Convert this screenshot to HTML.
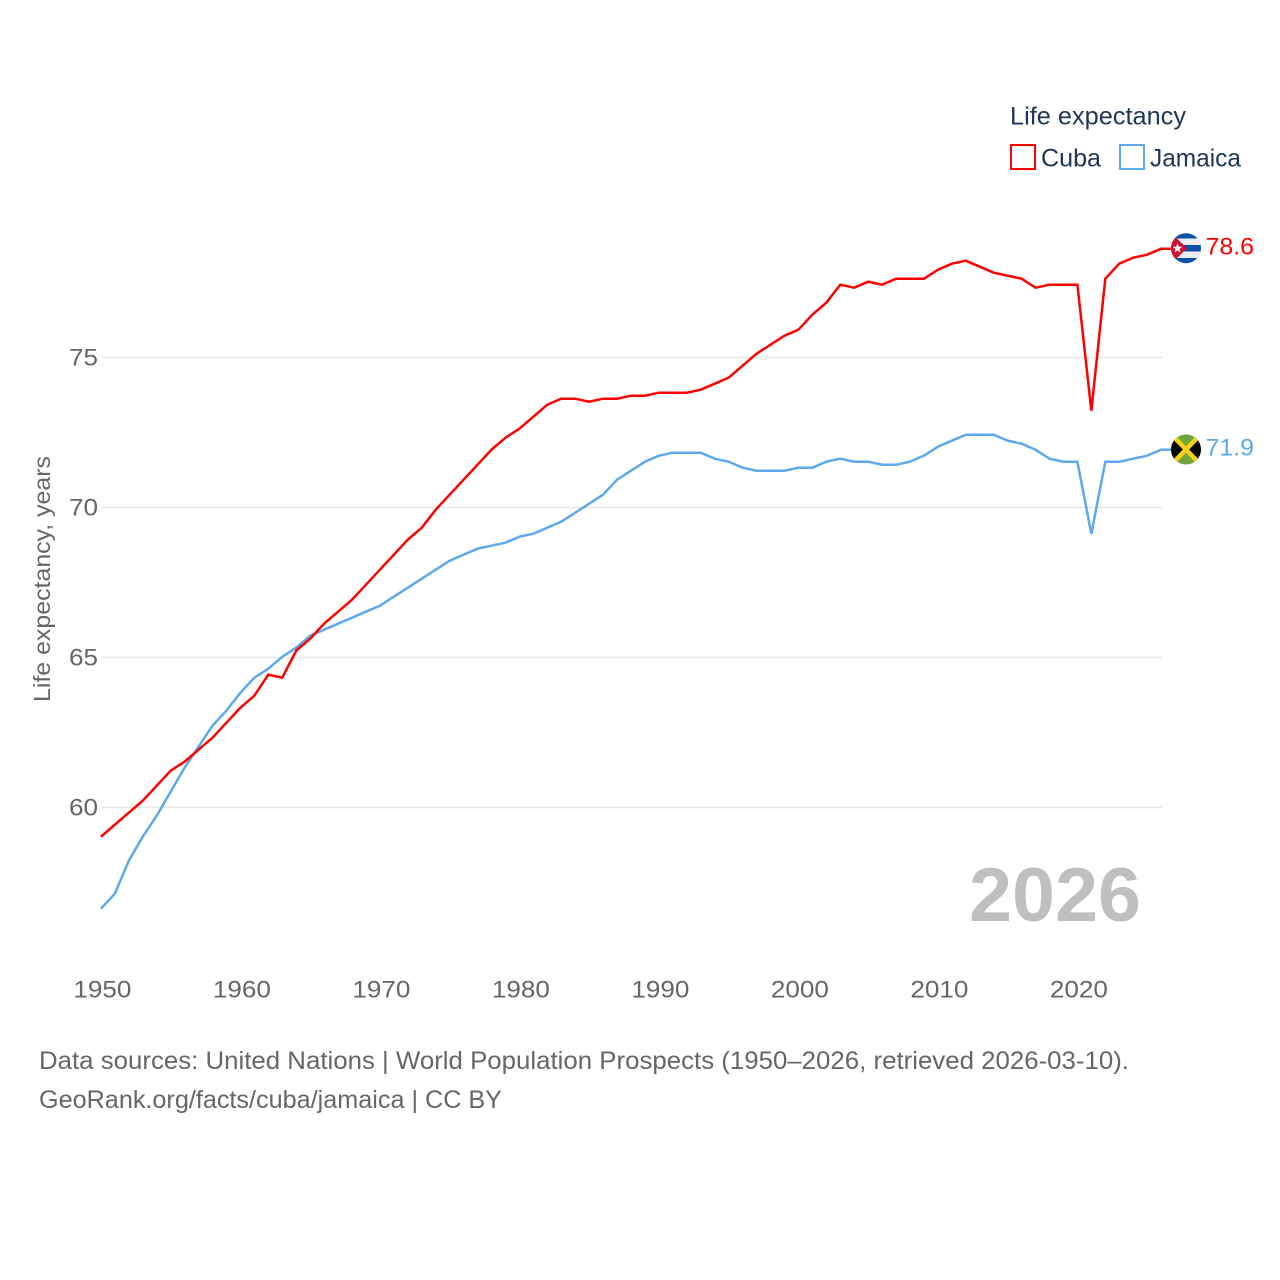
<!DOCTYPE html>
<html lang="en">
<head>
<meta charset="utf-8">
<title>Life expectancy: Cuba and Jamaica</title>
<style>
html,body{margin:0;padding:0;background:#fff;}
svg{display:block;}
text{font-family:"Liberation Sans",sans-serif;}
</style>
</head>
<body>
<svg id="chart" xmlns="http://www.w3.org/2000/svg" width="1280" height="1280" viewBox="0 0 1280 1280">
  <rect width="1280" height="1280" fill="#fff"/>
  <defs>
    <clipPath id="cuba-clip"><circle cx="1186" cy="248.2" r="15"/></clipPath>
    <clipPath id="jamaica-clip"><circle cx="1186" cy="449.5" r="15"/></clipPath>
  </defs>
  <g id="grid"></g>
  <g id="y-ticks"></g>
  <g id="x-ticks"></g>
  <text transform="translate(50,579) rotate(-90)" text-anchor="middle" font-size="23" fill="#666" textLength="246" lengthAdjust="spacingAndGlyphs">Life expectancy, years</text>
  <text x="1055" y="921" text-anchor="middle" font-size="76" font-weight="bold" fill="#bfbfbf" textLength="172" lengthAdjust="spacingAndGlyphs">2026</text>
  <g id="series"></g>
  <g clip-path="url(#cuba-clip)">
    <rect x="1171" y="233" width="30" height="31" fill="#0a4fa8"/>
    <rect x="1171" y="238.5" width="30" height="6.5" fill="#eeeef4"/>
    <rect x="1171" y="251.5" width="30" height="6.5" fill="#eeeef4"/>
    <polygon points="1171,233 1171,264 1187,248.2" fill="#d21034"/>
    <polygon points="1177.5,243.2 1178.8,246.7 1182.4,246.7 1179.5,249 1180.5,252.5 1177.5,250.4 1174.5,252.5 1175.5,249 1172.6,246.7 1176.2,246.7" fill="#fff"/>
  </g>
  <g clip-path="url(#jamaica-clip)">
    <rect x="1171" y="434" width="30" height="31" fill="#6fa53f"/>
    <polygon points="1171,434 1186,449.5 1171,465" fill="#050505"/>
    <polygon points="1201,434 1186,449.5 1201,465" fill="#050505"/>
    <path d="M1171 434 L1201 465 M1201 434 L1171 465" stroke="#f7d117" stroke-width="4.5" fill="none"/>
  </g>
  <text id="label-cuba" x="1205.5" y="254.5" font-size="24" fill="#ff0000" textLength="48.5" lengthAdjust="spacingAndGlyphs"></text>
  <text id="label-jamaica" x="1205.5" y="455.5" font-size="24" fill="#5ea8ee" textLength="48.5" lengthAdjust="spacingAndGlyphs"></text>
  <g>
    <text x="1010" y="124.5" font-size="25" fill="#1d3557" textLength="176" lengthAdjust="spacingAndGlyphs">Life expectancy</text>
    <g>
      <rect x="1011" y="145" width="24" height="24" fill="#fff" stroke="#ff0000" stroke-width="2"/>
      <text x="1041" y="166.5" font-size="25" fill="#1d3557" textLength="60" lengthAdjust="spacingAndGlyphs">Cuba</text>
    </g>
    <g>
      <rect x="1120" y="145" width="24" height="24" fill="#fff" stroke="#5ea8ee" stroke-width="2"/>
      <text x="1150" y="166.5" font-size="25" fill="#1d3557" textLength="91" lengthAdjust="spacingAndGlyphs">Jamaica</text>
    </g>
  </g>
  <text x="39" y="1069" font-size="25" fill="#666" textLength="1090" lengthAdjust="spacingAndGlyphs">Data sources: United Nations | World Population Prospects (1950–2026, retrieved 2026-03-10).</text>
  <text x="39" y="1108" font-size="25" fill="#666" textLength="463" lengthAdjust="spacingAndGlyphs">GeoRank.org/facts/cuba/jamaica | CC BY</text>
</svg>
<script>
const years = [1950,1951,1952,1953,1954,1955,1956,1957,1958,1959,1960,1961,1962,1963,1964,1965,1966,1967,1968,1969,1970,1971,1972,1973,1974,1975,1976,1977,1978,1979,1980,1981,1982,1983,1984,1985,1986,1987,1988,1989,1990,1991,1992,1993,1994,1995,1996,1997,1998,1999,2000,2001,2002,2003,2004,2005,2006,2007,2008,2009,2010,2011,2012,2013,2014,2015,2016,2017,2018,2019,2020,2021,2022,2023,2024,2025,2026];
const cubaValues = [59.0,59.4,59.8,60.2,60.7,61.2,61.5,61.9,62.3,62.8,63.3,63.7,64.4,64.3,65.2,65.6,66.1,66.5,66.9,67.4,67.9,68.4,68.9,69.3,69.9,70.4,70.9,71.4,71.9,72.3,72.6,73.0,73.4,73.6,73.6,73.5,73.6,73.6,73.7,73.7,73.8,73.8,73.8,73.9,74.1,74.3,74.7,75.1,75.4,75.7,75.9,76.4,76.8,77.4,77.3,77.5,77.4,77.6,77.6,77.6,77.9,78.1,78.2,78.0,77.8,77.7,77.6,77.3,77.4,77.4,77.4,73.2,77.6,78.1,78.3,78.4,78.6];
const jamaicaValues = [56.6,57.1,58.2,59.0,59.7,60.5,61.3,62.0,62.7,63.2,63.8,64.3,64.6,65.0,65.3,65.7,65.9,66.1,66.3,66.5,66.7,67.0,67.3,67.6,67.9,68.2,68.4,68.6,68.7,68.8,69.0,69.1,69.3,69.5,69.8,70.1,70.4,70.9,71.2,71.5,71.7,71.8,71.8,71.8,71.6,71.5,71.3,71.2,71.2,71.2,71.3,71.3,71.5,71.6,71.5,71.5,71.4,71.4,71.5,71.7,72.0,72.2,72.4,72.4,72.4,72.2,72.1,71.9,71.6,71.5,71.5,69.1,71.5,71.5,71.6,71.7,71.9];
const yTickValues = [60,65,70,75];
const xTickValues = [1950,1960,1970,1980,1990,2000,2010,2020];

const NS = 'http://www.w3.org/2000/svg';
function xScale(year){ return 100.9 + (year - 1950) * 13.95; }
function yScale(v){ return 806.7 - (v - 60) * 30; }
function gridY(v){ return 807.5 - (v - 60) * 30; }
function make(tag, attrs, parent){
  const el = document.createElementNS(NS, tag);
  for (const k in attrs) el.setAttribute(k, attrs[k]);
  parent.appendChild(el);
  return el;
}

const grid = document.getElementById('grid');
const yTicks = document.getElementById('y-ticks');
yTickValues.forEach(function(v){
  const line = make('line', {x1:101.5, x2:1162, y1:gridY(v), y2:gridY(v), stroke:'#e8e8e8', 'stroke-width':1.5}, grid);
  
  
  const t = make('text', {x:98, y:gridY(v)+8, 'text-anchor':'end', 'font-size':24, fill:'#666', textLength:29, lengthAdjust:'spacingAndGlyphs'}, yTicks);
  
  
  t.textContent = v;
});

const xTicks = document.getElementById('x-ticks');
xTickValues.forEach(function(y){
  const t = make('text', {x:xScale(y)+1.5, y:997.5, 'text-anchor':'middle', 'font-size':24, fill:'#666', textLength:58, lengthAdjust:'spacingAndGlyphs'}, xTicks);
  
  
  t.textContent = y;
});

function linePath(values){
  const d = values.map(function(v,i){
    return (i ? 'L' : 'M') + xScale(years[i]).toFixed(2) + ' ' + yScale(v).toFixed(2);
  }).join(' ');
  return d + ' H1172';
}
const series = document.getElementById('series');
const jamaicaLine = make('path', {d:linePath(jamaicaValues), fill:'none', stroke:'#5ea8ee', 'stroke-width':2.5, 'stroke-linejoin':'miter'}, series);


const cubaLine = make('path', {d:linePath(cubaValues), fill:'none', stroke:'#ff0000', 'stroke-width':2.5, 'stroke-linejoin':'miter'}, series);



document.getElementById('label-cuba').textContent = cubaValues[cubaValues.length-1].toFixed(1);
document.getElementById('label-jamaica').textContent = jamaicaValues[jamaicaValues.length-1].toFixed(1);
</script>
</body>
</html>
